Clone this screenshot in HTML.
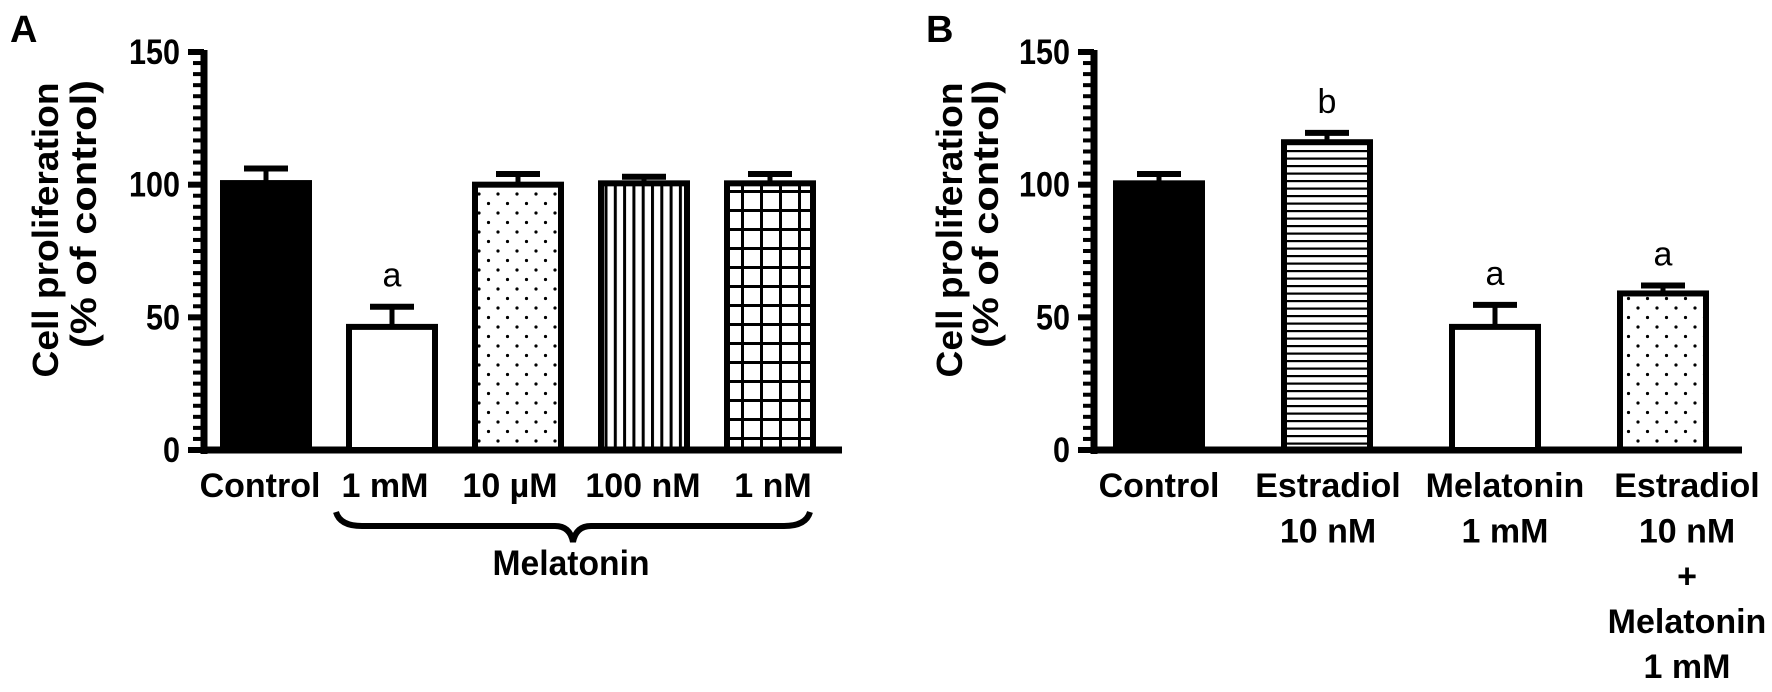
<!DOCTYPE html>
<html><head><meta charset="utf-8"><style>
html,body{margin:0;padding:0;background:#fff;}
svg{display:block;}
text{font-family:"Liberation Sans",Arial,sans-serif;fill:#000;}
</style></head><body>
<svg id="chart" width="1772" height="692" viewBox="0 0 1772 692" xmlns="http://www.w3.org/2000/svg">
<defs>
<pattern id="dots" patternUnits="userSpaceOnUse" width="19" height="19"><circle cx="4" cy="4" r="1.6" fill="#000"/><circle cx="13.5" cy="13.5" r="1.6" fill="#000"/></pattern>
<pattern id="vlines" patternUnits="userSpaceOnUse" width="9.3" height="10"><rect x="0" y="0" width="3" height="10" fill="#000"/></pattern>
<pattern id="grid" patternUnits="userSpaceOnUse" width="19" height="19"><rect x="0" y="0" width="3" height="19" fill="#000"/><rect x="0" y="0" width="19" height="3" fill="#000"/></pattern>
<pattern id="hlines" patternUnits="userSpaceOnUse" width="10" height="7.5"><rect x="0" y="0" width="10" height="2.2" fill="#000"/></pattern>
</defs>
</svg>
<script>
// Panel A data
const catsA = ["Control", "1 mM", "10 µM", "100 nM", "1 nM"];
const valsA = [100.6, 46.4, 100, 100.5, 100.5];
const errA = [5.5, 7.6, 4, 2.5, 3.5];
const sigA = ["", "a", "", "", ""];
const fillsA = ["solid", "white", "dots", "vlines", "grid"];
// Panel B data
const catsB = [["Control"], ["Estradiol", "10 nM"], ["Melatonin", "1 mM"], ["Estradiol", "10 nM", "+", "Melatonin", "1 mM"]];
const valsB = [100.5, 116, 46.4, 59];
const errB = [3.5, 3.5, 8.3, 3];
const sigB = ["", "b", "a", "a"];
const fillsB = ["solid", "hlines", "white", "dots"];
const yTicks = [0, 50, 100, 150];

const svg = document.getElementById('chart');
const NS = 'http://www.w3.org/2000/svg';
function mk(tag, attrs, parent) {
  const e = document.createElementNS(NS, tag);
  for (const k in attrs) e.setAttribute(k, attrs[k]);
  (parent || svg).appendChild(e);
  return e;
}
const y0 = 450, y150 = 52;
function yScale(v) { return y0 - (v / 150) * (y0 - y150); }
function fillOf(f) { return f === 'solid' ? '#000' : f === 'white' ? '#fff' : 'url(#' + f + ')'; }

function panel(cfg) {
  const g = mk('g', {});
  
  
  const L = mk('text', {x: cfg.letterX, y: 42, 'font-size': 38, 'font-weight': 'bold'}, g);
  L.textContent = cfg.letter;
  
  
  const t1 = mk('text', {transform: 'translate(' + cfg.t1x + ',230) rotate(-90)', 'text-anchor': 'middle', 'font-size': 36, 'font-weight': 'bold', textLength: 295, lengthAdjust: 'spacingAndGlyphs'}, g);
  t1.textContent = 'Cell proliferation';
  
  
  const t2 = mk('text', {transform: 'translate(' + cfg.t2x + ',214) rotate(-90)', 'text-anchor': 'middle', 'font-size': 36, 'font-weight': 'bold', textLength: 268, lengthAdjust: 'spacingAndGlyphs'}, g);
  t2.textContent = '(% of control)';
  
  
  const ax = cfg.axisX;
  const ya = mk('line', {x1: ax, y1: y150 - 2, x2: ax, y2: y0 + 4, stroke: '#000', 'stroke-width': 7}, g);
  
  
  const xa = mk('line', {x1: ax - 3, y1: y0, x2: cfg.axisEnd, y2: y0, stroke: '#000', 'stroke-width': 7}, g);
  
  
  for (let v = 0; v <= 150.01; v += 50 / 12) {
    const tk = mk('line', {x1: ax - 11, y1: yScale(v), x2: ax, y2: yScale(v), stroke: '#000', 'stroke-width': 4}, g);
    
    
  }
  yTicks.forEach(v => {
    const tk = mk('line', {x1: ax - 16, y1: yScale(v), x2: ax, y2: yScale(v), stroke: '#000', 'stroke-width': 6}, g);
    
    
    const s = String(v);
    const lb = mk('text', {x: ax - 24, y: yScale(v) + 12, 'text-anchor': 'end', 'font-size': 35, 'font-weight': 'bold', textLength: s.length * 17, lengthAdjust: 'spacingAndGlyphs'}, g);
    lb.textContent = s;
    
    
  });
  cfg.vals.forEach((v, i) => {
    const cx = cfg.x0 + i * cfg.pitch;
    const w = cfg.barW;
    const top = yScale(v);
    const eb = mk('line', {x1: cx, y1: top, x2: cx, y2: yScale(v + cfg.err[i]), stroke: '#000', 'stroke-width': 5}, g);
    
    
    const cap = mk('line', {x1: cx - 22, y1: yScale(v + cfg.err[i]), x2: cx + 22, y2: yScale(v + cfg.err[i]), stroke: '#000', 'stroke-width': 6}, g);
    
    
    const b = mk('rect', {x: cx - w / 2, y: top, width: w, height: y0 - top, fill: fillOf(cfg.fills[i]), stroke: '#000', 'stroke-width': 6}, g);
    
    
    if (cfg.sig[i]) {
      const s = mk('text', {x: cx, y: yScale(v + cfg.err[i]) - 20, 'text-anchor': 'middle', 'font-size': 34}, g);
      s.textContent = cfg.sig[i];
      
      
    }
    const lines = cfg.cats[i];
    (Array.isArray(lines) ? lines : [lines]).forEach((ln, j) => {
      const t = mk('text', {x: cx + (cfg.labelShift ? cfg.labelShift[i] : 0), y: 497 + j * 45.3, 'text-anchor': 'middle', 'font-size': 34, 'font-weight': 'bold'}, g);
      t.textContent = ln;
      
      
    });
  });
}

panel({name: 'panel-a', letter: 'A', letterX: 10, t1x: 58, t2x: 96, axisX: 204, axisEnd: 842,
  x0: 266, pitch: 126, barW: 86, vals: valsA, err: errA, sig: sigA, fills: fillsA, cats: catsA,
  labelShift: [-6, -7, -8, -1, 3]});
panel({name: 'panel-b', letter: 'B', letterX: 926, t1x: 962, t2x: 998, axisX: 1094, axisEnd: 1742,
  x0: 1159, pitch: 168, barW: 86, vals: valsB, err: errB, sig: sigB, fills: fillsB, cats: catsB,
  labelShift: [0, 1, 10, 24]});

const br = mk('path', {d: 'M336,512 Q340,526 362,526 L555,526 Q570,526 573,542 Q576,526 591,526 L784,526 Q806,526 810,512', fill: 'none', stroke: '#000', 'stroke-width': 6});


const mt = mk('text', {x: 571, y: 575, 'text-anchor': 'middle', 'font-size': 35, 'font-weight': 'bold', textLength: 157, lengthAdjust: 'spacingAndGlyphs'});
mt.textContent = 'Melatonin';


</script>
</body></html>
